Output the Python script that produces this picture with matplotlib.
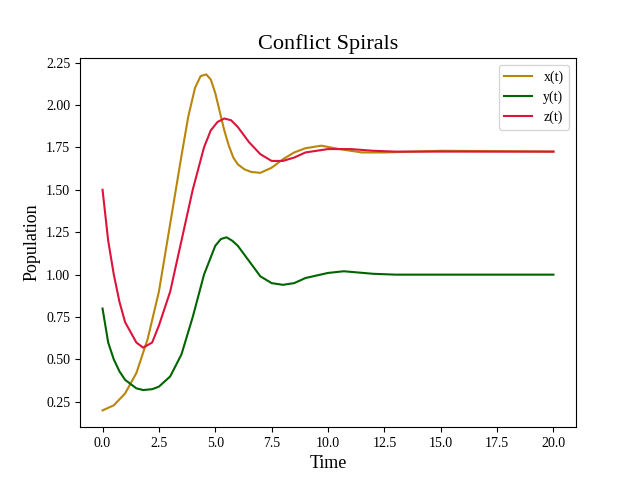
import matplotlib.pyplot as plt

plt.rcParams["font.family"] = ["Liberation Serif", "DejaVu Serif"]

t_x = [0, 0.5, 1, 1.5, 2, 2.5, 3, 3.5, 3.8, 4.1, 4.35, 4.6, 4.8, 5.0, 5.2, 5.4, 5.6, 5.8, 6, 6.3, 6.6, 7, 7.5, 8, 8.5, 9, 9.7, 10.5, 11.5, 12.5, 15, 20]
x_vals = [0.2, 0.23, 0.3, 0.42, 0.62, 0.9, 1.3, 1.7, 1.93, 2.1, 2.17, 2.18, 2.15, 2.07, 1.96, 1.85, 1.76, 1.69, 1.65, 1.62, 1.605, 1.60, 1.63, 1.68, 1.72, 1.745, 1.76, 1.74, 1.72, 1.72, 1.73, 1.725]

t_y = [0, 0.25, 0.5, 0.75, 1, 1.5, 1.8, 2.2, 2.5, 3, 3.5, 4, 4.5, 5, 5.25, 5.5, 5.75, 6, 6.5, 7, 7.5, 8, 8.5, 9, 10, 10.7, 12, 13, 15, 20]
y_vals = [0.8, 0.6, 0.5, 0.43, 0.38, 0.33, 0.32, 0.325, 0.34, 0.4, 0.53, 0.75, 1.0, 1.17, 1.21, 1.22, 1.2, 1.17, 1.08, 0.99, 0.95, 0.94, 0.95, 0.98, 1.01, 1.02, 1.005, 1.0, 1.0, 1.0]

t_z = [0, 0.25, 0.5, 0.75, 1, 1.5, 1.8, 2.2, 2.5, 3, 3.5, 4, 4.5, 4.8, 5.1, 5.4, 5.7, 6, 6.5, 7, 7.5, 8, 8.5, 9, 10, 11, 12, 13, 20]
z_vals = [1.5, 1.2, 1.0, 0.84, 0.72, 0.6, 0.57, 0.6, 0.7, 0.9, 1.2, 1.5, 1.75, 1.85, 1.9, 1.92, 1.91, 1.87, 1.78, 1.71, 1.67, 1.67, 1.69, 1.72, 1.74, 1.74, 1.73, 1.725, 1.725]

fig, ax = plt.subplots(figsize=(6.4, 4.8), dpi=100)
ax.plot(t_x, x_vals, color="darkgoldenrod", label="x(t)")
ax.plot(t_y, y_vals, color="darkgreen", label="y(t)")
ax.plot(t_z, z_vals, color="crimson", label="z(t)")
ax.set_xticks([0, 2.5, 5, 7.5, 10, 12.5, 15, 17.5, 20])
ax.set_yticks([0.25, 0.5, 0.75, 1.0, 1.25, 1.5, 1.75, 2.0, 2.25])
ax.set_title("Conflict Spirals", fontsize=16)
ax.set_xlabel("Time", fontsize=13)
ax.set_ylabel("Population", fontsize=13)
ax.legend(loc="upper right")
fig.savefig("out.png")
